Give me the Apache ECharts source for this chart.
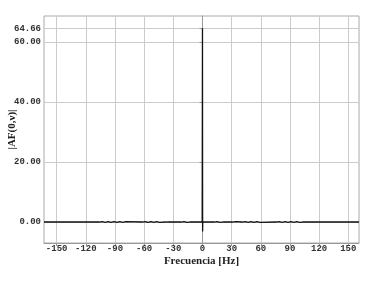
<!DOCTYPE html>
<html><head><meta charset="utf-8">
<script src="https://cdn.jsdelivr.net/npm/echarts@6/dist/echarts.min.js"></script>
<style>html,body{margin:0;padding:0;background:#fff}#c{width:383px;height:284px}</style>
</head><body><div id="c"></div>
<script>
// Frequency samples (Hz)
const freqHz = [
 -163,
 -106,-105,-104,-103,-102,-101,-100,-99,-98,-97,-96,-95,-94,-93,-92,-91,-90,-89,-88,-87,-86,-85,-84,-83,-82,-81,-80,-79,-78,
 -62,-61,-60,-59,-58,-57,-56,-55,-54,-53,-52,-51,-50,-49,-48,-47,-46,-45,-44,-43,-42,
 -38,-37,-36,-35,-34,
 -22,-21,-20,-19,-18,-17,-16,-15,-14,-13,
 -0.3,0,0.15,0.3,
 12,13,14,15,16,17,18,19,20,21,
 31,32,33,34,35,36,
 41,42,43,44,45,46,47,48,49,50,51,52,53,54,55,56,57,58,59,60,61,
 76,77,78,79,80,81,82,83,84,85,86,87,88,89,90,91,92,93,94,95,96,97,98,99,100,101,102,103,
 161
];
// |AF(0,nu)| values
const afAmp = [
 0,
 0,0.15,-0.15,0.1,-0.15,0.15,-0.1,0.15,-0.15,0.1,-0.15,0.15,-0.1,0.1,-0.15,0.15,-0.1,0.15,-0.15,0.1,-0.15,0.1,-0.1,0.15,-0.1,0.1,-0.15,0.1,0,
 0,0.15,-0.15,0.15,-0.15,0.1,-0.15,0.15,-0.1,0.15,-0.15,0.1,-0.15,0.15,-0.1,0.15,-0.15,0.1,-0.1,0.1,0,
 0,0.1,-0.1,0.08,0,
 0,0.1,-0.15,0.15,-0.1,0.15,-0.15,0.1,-0.1,0,
 0,64.66,-3.2,0,
 0,0.1,-0.15,0.15,-0.1,0.1,-0.15,0.1,-0.1,0,
 0,0.1,-0.1,0.1,-0.08,0,
 0,0.15,-0.15,0.15,-0.15,0.15,-0.15,0.1,-0.15,0.15,-0.15,0.15,-0.1,0.15,-0.15,0.15,-0.15,0.15,-0.1,0.1,0,
 0,0.1,-0.15,0.15,-0.1,0.15,-0.1,0.15,-0.15,0.1,-0.15,0.15,-0.1,0.1,-0.15,0.1,-0.1,0.15,-0.1,0.1,-0.15,0.1,-0.1,0.1,-0.1,0.1,-0.08,0,
 0
];
const xTicks = [-150,-120,-90,-60,-30,0,30,60,90,120,150];
const yTicks = [0,20,40,60,64.66];

const chart = echarts.init(document.getElementById('c'), null, {renderer:'canvas'});
const labelFont = {fontFamily:'Liberation Mono', fontSize:9, fontWeight:'bold', color:'#333'};
chart.setOption({
  animation:false,
  grid:{left:44, right:24, top:16, bottom:41, show:true, borderColor:'#aaa', borderWidth:1, containLabel:false, outerBoundsMode:'none'},
  xAxis:{
    type:'value', min:-163, max:161,
    name:'Frecuencia [Hz]', nameLocation:'middle', nameGap:13, nameMoveOverlap:false,
    nameTextStyle:{fontFamily:'Liberation Serif', fontWeight:'bold', fontSize:11, color:'#222', verticalAlign:'top'},
    axisLine:{show:true, onZero:false, lineStyle:{color:'#999'}},
    axisTick:{show:true, length:3, customValues:xTicks, lineStyle:{color:'#999'}},
    axisLabel:Object.assign({customValues:xTicks, margin:1, formatter:v=>String(v)}, labelFont),
    splitLine:{show:true, lineStyle:{color:'#ccc', width:1}}
  },
  yAxis:{
    type:'value', min:-7, max:68.75,
    name:'|AF(0,ν)|', nameLocation:'middle', nameGap:26, nameRotate:90, nameMoveOverlap:false,
    nameTextStyle:{fontFamily:'Liberation Serif', fontWeight:'bold', fontSize:11, color:'#222'},
    axisLine:{show:true, lineStyle:{color:'#999'}},
    axisTick:{show:true, length:3, customValues:yTicks, lineStyle:{color:'#999'}},
    axisLabel:Object.assign({customValues:yTicks, margin:3, formatter:v=>v.toFixed(2)}, labelFont),
    splitLine:{show:true, lineStyle:{color:'#ccc', width:1}}
  },
  series:[{
    type:'line', showSymbol:false, symbol:'none',
    data:freqHz.map((f,i)=>[f, afAmp[i]]),
    lineStyle:{color:'#111', width:1.3, join:'bevel'}
  }]
});
</script></body></html>
